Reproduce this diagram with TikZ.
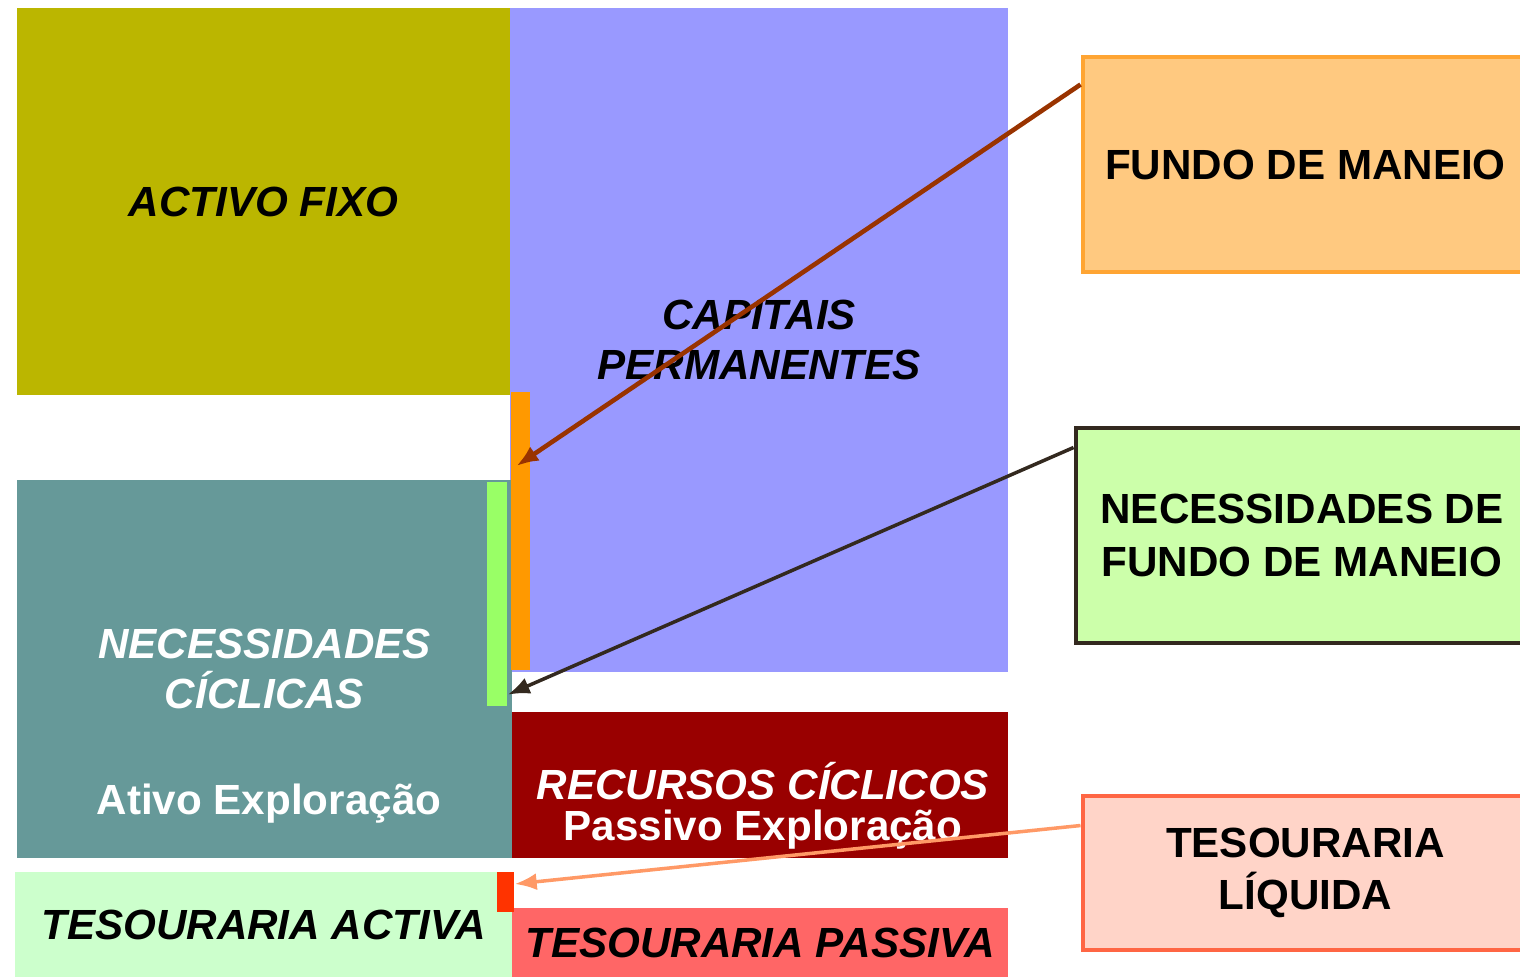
\documentclass[tikz,border=0pt]{standalone}
\usepackage{fontspec}
\setmainfont{Liberation Sans}
\usepackage{tikz}
\usetikzlibrary{arrows.meta}

\definecolor{fixo}{RGB}{187,182,0}
\definecolor{capital}{RGB}{153,153,255}
\definecolor{ciclico}{RGB}{102,153,153}
\definecolor{recurso}{RGB}{153,0,0}
\definecolor{tesact}{RGB}{204,255,204}
\definecolor{tespas}{RGB}{255,102,102}
\definecolor{laranja}{RGB}{255,153,0}
\definecolor{verde}{RGB}{153,255,102}
\definecolor{vermelho}{RGB}{255,51,0}
\definecolor{fmfundo}{RGB}{255,201,128}
\definecolor{fmborda}{RGB}{255,165,51}
\definecolor{nfmfundo}{RGB}{204,255,170}
\definecolor{nfmborda}{RGB}{51,41,31}
\definecolor{tlfundo}{RGB}{255,212,200}
\definecolor{tlborda}{RGB}{255,102,68}
\definecolor{castanho}{RGB}{153,51,0}
\definecolor{salmao}{RGB}{255,153,102}

\tikzset{
  bloco/.style={rectangle,inner sep=0pt,align=center,font=\fontsize{12}{14.5}\selectfont\bfseries\itshape},
  caixa/.style={rectangle,line width=1.4pt,inner sep=0pt,align=center,font=\fontsize{12}{15}\selectfont\bfseries},
  barra/.style={rectangle,inner sep=0pt},
  seta/.style={line width=1pt,-{Latex[length=2.2mm,width=1.7mm]}}
}

\begin{document}
\begin{tikzpicture}
\clip (0,0) rectangle (15.20,-9.77);

% balanco funcional
\node[bloco,fill=capital,minimum width=4.98cm,minimum height=6.64cm] (cp) at (7.59,-3.40) {CAPITAIS\\PERMANENTES};
\node[bloco,fill=fixo,minimum width=4.93cm,minimum height=3.87cm] (af) at (2.635,-2.015) {ACTIVO FIXO};
\node[bloco,fill=ciclico,text=white,minimum width=4.95cm,minimum height=3.78cm] (nc) at (2.645,-6.69) {NECESSIDADES\\CÍCLICAS};
\node[font=\fontsize{12}{14}\selectfont\bfseries,text=white,inner sep=0pt] (ae) at (2.69,-8.04) {Ativo Exploração};
\node[bloco,fill=recurso,minimum width=4.96cm,minimum height=1.46cm] (rc) at (7.60,-7.85) {};
\node[font=\fontsize{12}{11.6}\selectfont\bfseries,text=white,align=center,inner sep=0pt] (rcl) at (7.63,-8.06) {{\itshape RECURSOS CÍCLICOS}\\Passivo Exploração};
\node[bloco,fill=tesact,minimum width=4.97cm,minimum height=1.05cm] (ta) at (2.635,-9.245) {TESOURARIA ACTIVA};
\node[bloco,fill=tespas,minimum width=4.96cm,minimum height=0.69cm] (tp) at (7.60,-9.425) {TESOURARIA PASSIVA};

% barras
\node[barra,fill=laranja,minimum width=0.19cm,minimum height=2.78cm] (ob) at (5.205,-5.31) {};
\node[barra,fill=verde,minimum width=0.20cm,minimum height=2.24cm] (gb) at (4.97,-5.94) {};
\node[barra,fill=vermelho,minimum width=0.17cm,minimum height=0.40cm] (rb) at (5.055,-8.92) {};

% caixas da direita
\node[caixa,draw=fmborda,fill=fmfundo,minimum width=4.45cm,minimum height=2.15cm] (fm) at (13.055,-1.645) {FUNDO DE MANEIO};
\node[caixa,draw=nfmborda,fill=nfmfundo,minimum width=4.52cm,minimum height=2.15cm] (nfm) at (13.02,-5.355) {NECESSIDADES DE\\FUNDO DE MANEIO};
\node[caixa,draw=tlborda,fill=tlfundo,minimum width=4.45cm,minimum height=1.54cm] (tl) at (13.055,-8.73) {TESOURARIA\\LÍQUIDA};

\draw[seta,castanho,line width=1.3pt] ([yshift=-0.30cm]fm.north west) -- ([xshift=-0.04cm,yshift=0.65cm]ob.center);
\draw[seta,nfmborda] ([yshift=-0.22cm]nfm.north west) -- ([yshift=0.12cm]gb.south east);
\draw[seta,salmao] ([yshift=-0.32cm]tl.north west) -- ([yshift=0.08cm]rb.east);
\end{tikzpicture}
\end{document}
